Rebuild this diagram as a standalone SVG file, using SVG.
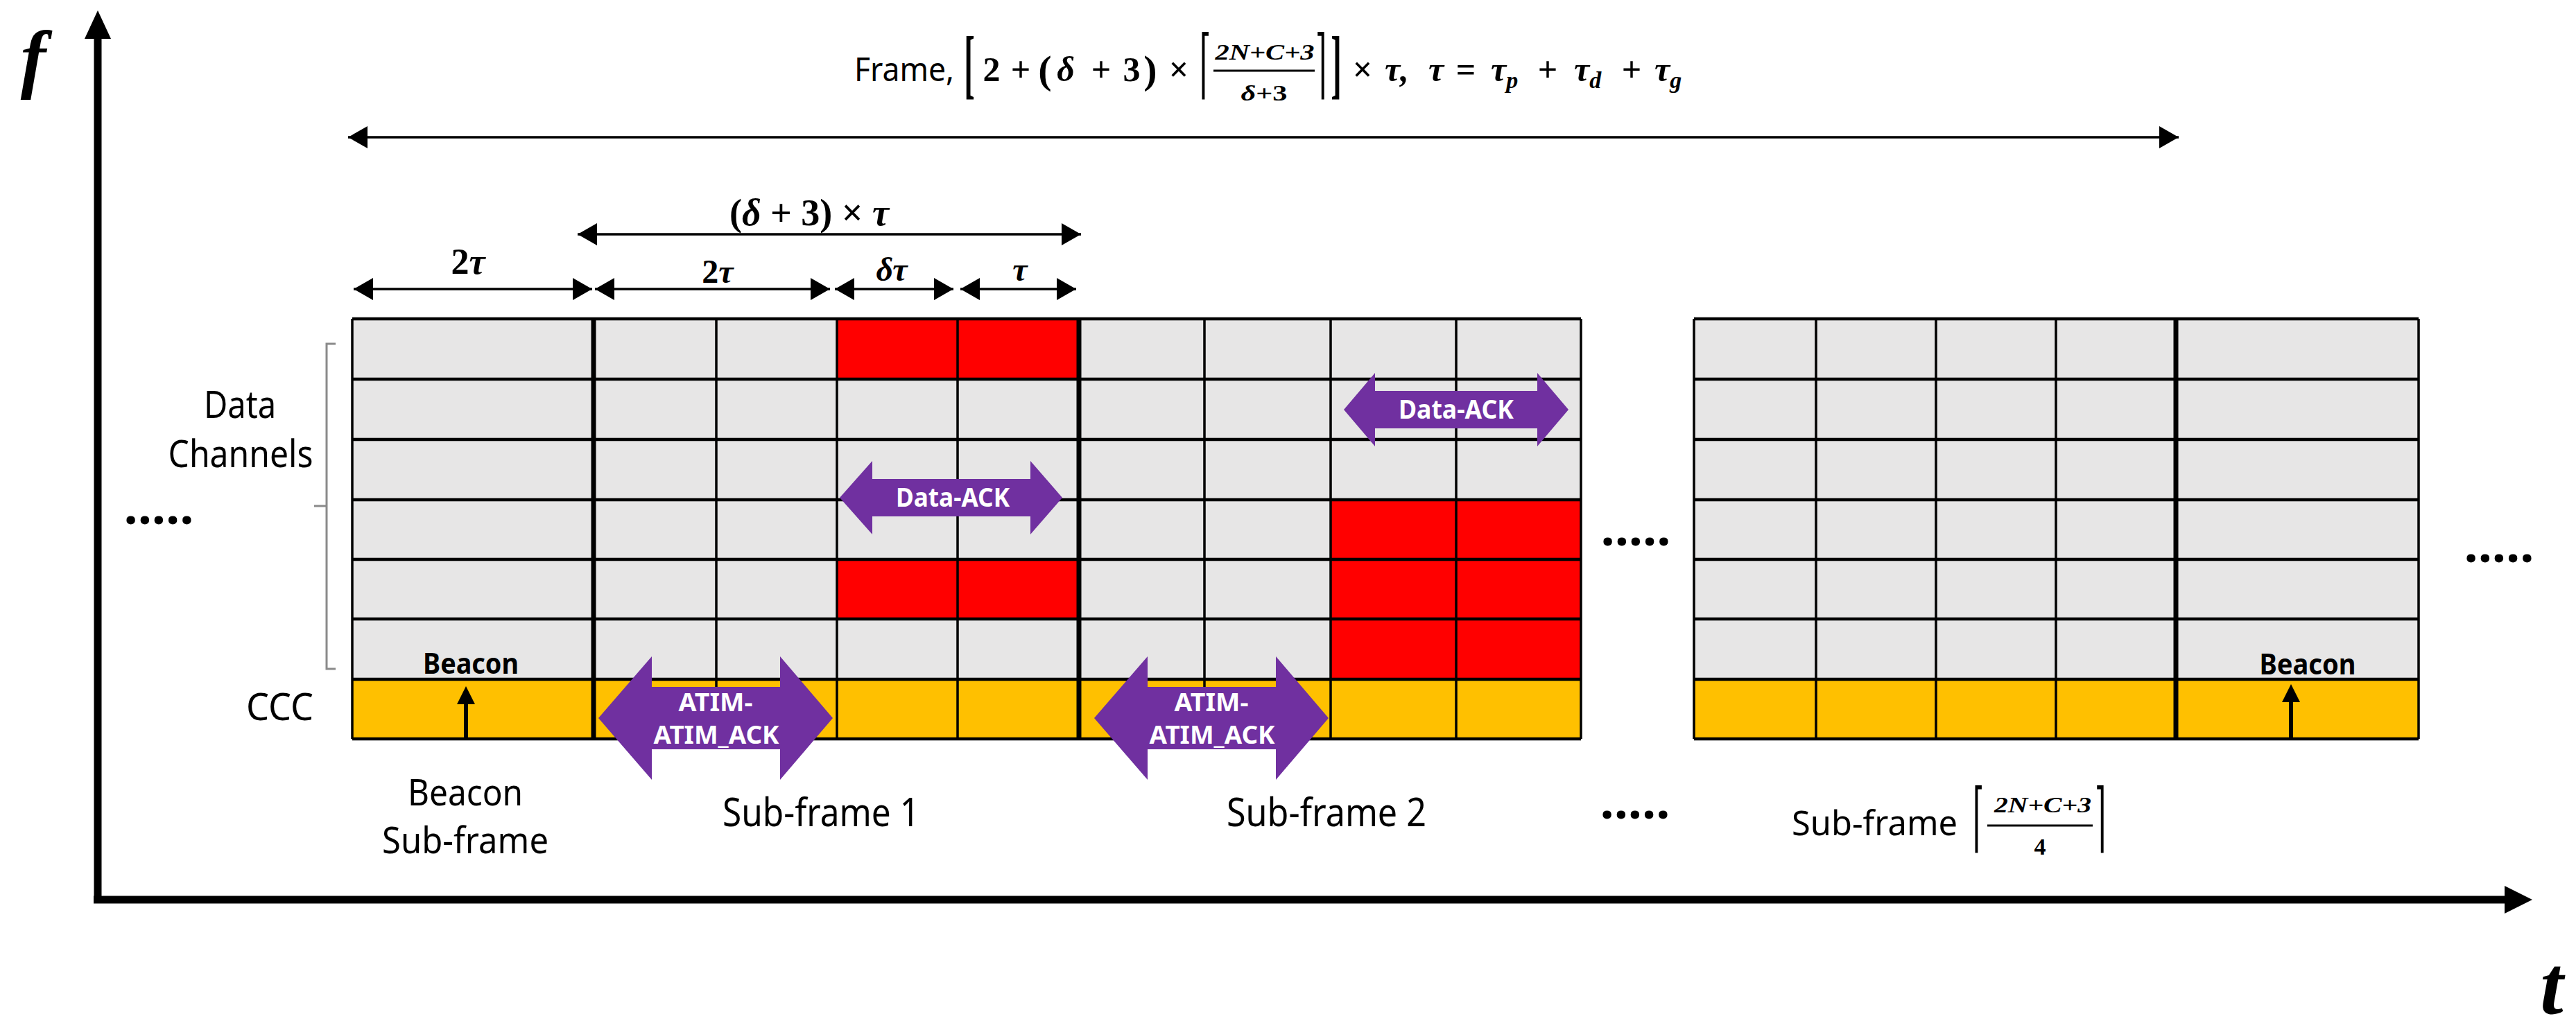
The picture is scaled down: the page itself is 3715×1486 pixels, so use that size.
<svg xmlns="http://www.w3.org/2000/svg" width="3715" height="1486" viewBox="0 0 3715 1486">
<style>
.bg{fill:#fff}
.gr{fill:#E7E6E6}
.rd{fill:#FF0000}
.cc{fill:#FFC000}
.hl{stroke:#000;stroke-width:4.5;fill:none}
.vl{stroke:#000;stroke-width:3.5;fill:none}
.vt{stroke:#000;stroke-width:7;fill:none}
.pa{fill:#7030A0}
.lbl{font-family:"Noto Sans","Liberation Sans",sans-serif;fill:#000}
.wt{font-family:"Noto Sans","Liberation Sans",sans-serif;font-weight:bold;fill:#fff}
.bk{font-family:"Noto Sans","Liberation Sans",sans-serif;font-weight:bold;fill:#000}
.m{font-family:"Liberation Serif","DejaVu Serif",serif;font-weight:bold;fill:#000}
.i{font-style:italic}
.dl{font-family:"DejaVu Serif","Liberation Serif",serif;fill:#000}
.dim{stroke:#000;stroke-width:3.5;fill:none}
.ax{stroke:#000;stroke-width:11;fill:none}
</style>
<defs>
<marker id="ah" viewBox="0 0 28 32" refX="28" refY="16" markerWidth="28" markerHeight="32" markerUnits="userSpaceOnUse" orient="auto-start-reverse">
<path d="M0,0 L28,16 L0,32 z" fill="#000"/>
</marker>
</defs>
<rect class="bg" x="0" y="0" width="3715" height="1486"/>

<g id="axes">
<line class="ax" x1="141" y1="1303" x2="141" y2="50"/>
<polygon points="141,15 122,56 160,56" fill="#000"/>
<line class="ax" x1="135" y1="1298" x2="3618" y2="1298"/>
<polygon points="3652,1298 3612,1278 3612,1318" fill="#000"/>
<text class="m i" x="48" y="121" font-size="110" text-anchor="middle">f</text>
<text class="m i" x="3680" y="1462" font-size="120" text-anchor="middle">t</text>
</g>

<g id="frame-label">
<text class="lbl" x="1232" y="117" font-size="48" textLength="144" lengthAdjust="spacingAndGlyphs">Frame,</text>
<text class="m" transform="translate(1398,129) scale(0.9,2.1)" font-size="52" text-anchor="middle">[</text>
<text class="m" x="1430" y="117" font-size="50" text-anchor="middle">2</text>
<text class="m" x="1472" y="117" font-size="50" text-anchor="middle">+</text>
<text class="m" x="1507" y="120" font-size="58" text-anchor="middle">(</text>
<text class="m i" x="1537" y="117" font-size="50" text-anchor="middle">δ</text>
<text class="m" x="1588" y="117" font-size="50" text-anchor="middle">+</text>
<text class="m" x="1632" y="117" font-size="50" text-anchor="middle">3</text>
<text class="m" x="1659" y="120" font-size="58" text-anchor="middle">)</text>
<text class="m" x="1700" y="117" font-size="50" text-anchor="middle">×</text>
<text class="dl" transform="translate(1738,129) scale(0.8,2.1)" font-size="52" text-anchor="middle">⌈</text>
<text class="m i" x="1824" y="86" font-size="32" text-anchor="middle" textLength="143" lengthAdjust="spacingAndGlyphs">2N+C+3</text>
<line x1="1750" y1="102" x2="1896" y2="102" stroke="#000" stroke-width="3"/>
<text class="m" x="1823" y="145" font-size="32" text-anchor="middle" textLength="67" lengthAdjust="spacingAndGlyphs"><tspan class="i">δ</tspan>+3</text>
<text class="dl" transform="translate(1905,129) scale(0.8,2.1)" font-size="52" text-anchor="middle">⌉</text>
<text class="m" transform="translate(1927,129) scale(0.9,2.1)" font-size="52" text-anchor="middle">]</text>
<text class="m" x="1965" y="117" font-size="50" text-anchor="middle">×</text>
<text class="m i" x="1997" y="117" font-size="50">τ,</text>
<text class="m i" x="2071" y="117" font-size="50" text-anchor="middle">τ</text>
<text class="m" x="2114" y="117" font-size="50" text-anchor="middle">=</text>
<text class="m i" x="2150" y="117" font-size="50">τ<tspan font-size="34" dy="10">p</tspan></text>
<text class="m" x="2232" y="117" font-size="50" text-anchor="middle">+</text>
<text class="m i" x="2270" y="117" font-size="50">τ<tspan font-size="34" dy="10">d</tspan></text>
<text class="m" x="2353" y="117" font-size="50" text-anchor="middle">+</text>
<text class="m i" x="2386" y="117" font-size="50">τ<tspan font-size="34" dy="10">g</tspan></text>
</g>

<g id="dimension-labels">
<text class="m" x="1167" y="325" font-size="54" text-anchor="middle">(<tspan class="i">δ</tspan> + 3) × <tspan class="i">τ</tspan></text>
<text class="m" x="675" y="395" font-size="52" text-anchor="middle">2<tspan class="i">τ</tspan></text>
<text class="m" x="1035" y="408" font-size="48" text-anchor="middle">2<tspan class="i">τ</tspan></text>
<text class="m i" x="1286" y="405" font-size="48" text-anchor="middle">δτ</text>
<text class="m i" x="1471" y="405" font-size="48" text-anchor="middle">τ</text>
</g>

<g id="connectors">
<line class="dim" x1="502" y1="198" x2="3142" y2="198" stroke-width="3" marker-start="url(#ah)" marker-end="url(#ah)"/>
<line class="dim" x1="833" y1="338" x2="1559" y2="338" marker-start="url(#ah)" marker-end="url(#ah)"/>
<line class="dim" x1="510" y1="417" x2="854" y2="417" marker-start="url(#ah)" marker-end="url(#ah)"/>
<line class="dim" x1="858" y1="417" x2="1197" y2="417" marker-start="url(#ah)" marker-end="url(#ah)"/>
<line class="dim" x1="1204" y1="417" x2="1375" y2="417" marker-start="url(#ah)" marker-end="url(#ah)"/>
<line class="dim" x1="1385" y1="417" x2="1552" y2="417" marker-start="url(#ah)" marker-end="url(#ah)"/>
</g>

<g id="channel-labels">
<text class="lbl" x="346" y="603" font-size="54" text-anchor="middle" textLength="104" lengthAdjust="spacingAndGlyphs">Data</text>
<text class="lbl" x="347" y="674" font-size="54" text-anchor="middle" textLength="209" lengthAdjust="spacingAndGlyphs">Channels</text>
<path d="M484,496 L471,496 L471,965 L484,965 M471,730 L453,730" stroke="#8a8a8a" stroke-width="3" fill="none"/>
<text class="lbl" x="452" y="1039" font-size="54" text-anchor="end" textLength="97" lengthAdjust="spacingAndGlyphs">CCC</text>
<text class="bk" x="229" y="756" font-size="72" text-anchor="middle">.....</text>
</g>

<g id="main-grid">
<rect class="gr" x="508" y="460" width="1772" height="520"/>
<rect class="cc" x="508" y="980" width="1772" height="86"/>
<rect class="rd" x="1207" y="460" width="349" height="87"/>
<rect class="rd" x="1207" y="807" width="349" height="86"/>
<rect class="rd" x="1919" y="721" width="361" height="259"/>
<path class="hl" d="M508,460H2280M508,547H2280M508,634H2280M508,721H2280M508,807H2280M508,893H2280M508,980H2280M508,1066H2280"/>
<path class="vl" d="M508,460V1066M1033,460V1066M1207,460V1066M1381,460V1066M1737,460V1066M1919,460V1066M2100,460V1066M2280,460V1066"/>
<path class="vt" d="M856,458V1068M1556,458V1068"/>
</g>

<g id="beacon-subframe">
<text class="bk" x="679" y="972" font-size="42" text-anchor="middle" textLength="138" lengthAdjust="spacingAndGlyphs">Beacon</text>
<line x1="672" y1="1066" x2="672" y2="1010" stroke="#000" stroke-width="6"/>
<polygon points="672,990 659,1016 685,1016" fill="#000"/>
<text class="lbl" x="671" y="1162" font-size="52" text-anchor="middle" textLength="166" lengthAdjust="spacingAndGlyphs">Beacon</text>
<text class="lbl" x="671" y="1231" font-size="52" text-anchor="middle" textLength="240" lengthAdjust="spacingAndGlyphs">Sub-frame</text>
</g>

<g id="subframe-1">
<polygon class="pa" points="863,1036 940,947 940,991 1125,991 1125,947 1201,1036 1125,1125 1125,1081 940,1081 940,1125"/>
<text class="wt" x="1032" y="1026" font-size="35" text-anchor="middle" textLength="107" lengthAdjust="spacingAndGlyphs">ATIM-</text>
<text class="wt" x="1033" y="1073" font-size="35" text-anchor="middle" textLength="181" lengthAdjust="spacingAndGlyphs">ATIM_ACK</text>
<polygon class="pa" points="1211,718 1258,665 1258,691 1486,691 1486,665 1532,718 1486,771 1486,745 1258,745 1258,771"/>
<text class="wt" x="1374" y="731" font-size="38" text-anchor="middle" textLength="164" lengthAdjust="spacingAndGlyphs">Data-ACK</text>
<text class="lbl" x="1184" y="1192" font-size="56" text-anchor="middle" textLength="284" lengthAdjust="spacingAndGlyphs">Sub-frame 1</text>
</g>

<g id="subframe-2">
<polygon class="pa" points="1578,1036 1655,947 1655,991 1840,991 1840,947 1916,1036 1840,1125 1840,1081 1655,1081 1655,1125"/>
<text class="wt" x="1747" y="1026" font-size="35" text-anchor="middle" textLength="107" lengthAdjust="spacingAndGlyphs">ATIM-</text>
<text class="wt" x="1748" y="1073" font-size="35" text-anchor="middle" textLength="181" lengthAdjust="spacingAndGlyphs">ATIM_ACK</text>
<polygon class="pa" points="1938,591 1983,538 1983,564 2217,564 2217,538 2262,591 2217,644 2217,618 1983,618 1983,644"/>
<text class="wt" x="2100" y="604" font-size="38" text-anchor="middle" textLength="166" lengthAdjust="spacingAndGlyphs">Data-ACK</text>
<text class="lbl" x="1913" y="1192" font-size="56" text-anchor="middle" textLength="288" lengthAdjust="spacingAndGlyphs">Sub-frame 2</text>
</g>

<g id="ellipses">
<text class="bk" x="2359" y="787" font-size="72" text-anchor="middle">.....</text>
<text class="bk" x="2358" y="1181" font-size="72" text-anchor="middle">.....</text>
<text class="bk" x="3604" y="811" font-size="72" text-anchor="middle">.....</text>
</g>

<g id="last-subframe">
<rect class="gr" x="2443" y="460" width="1045" height="520"/>
<rect class="cc" x="2443" y="980" width="1045" height="86"/>
<path class="hl" d="M2443,460H3488M2443,547H3488M2443,634H3488M2443,721H3488M2443,807H3488M2443,893H3488M2443,980H3488M2443,1066H3488"/>
<path class="vl" d="M2443,460V1066M2619,460V1066M2792,460V1066M2965,460V1066M3488,460V1066"/>
<path class="vt" d="M3138,458V1068" stroke-width="6"/>
<text class="bk" x="3328" y="973" font-size="42" text-anchor="middle" textLength="139" lengthAdjust="spacingAndGlyphs">Beacon</text>
<line x1="3304" y1="1066" x2="3304" y2="1006" stroke="#000" stroke-width="6"/>
<polygon points="3304,987 3291,1013 3317,1013" fill="#000"/>
<text class="lbl" x="2584" y="1205" font-size="50" textLength="239" lengthAdjust="spacingAndGlyphs">Sub-frame</text>
<text class="dl" transform="translate(2853,1216) scale(0.8,2.1)" font-size="52" text-anchor="middle">⌈</text>
<text class="m i" x="2946" y="1172" font-size="32" text-anchor="middle" textLength="140" lengthAdjust="spacingAndGlyphs">2N+C+3</text>
<line x1="2866" y1="1191" x2="3018" y2="1191" stroke="#000" stroke-width="3"/>
<text class="m" x="2942" y="1233" font-size="34" text-anchor="middle">4</text>
<text class="dl" transform="translate(3029,1216) scale(0.8,2.1)" font-size="52" text-anchor="middle">⌉</text>
</g>
</svg>
